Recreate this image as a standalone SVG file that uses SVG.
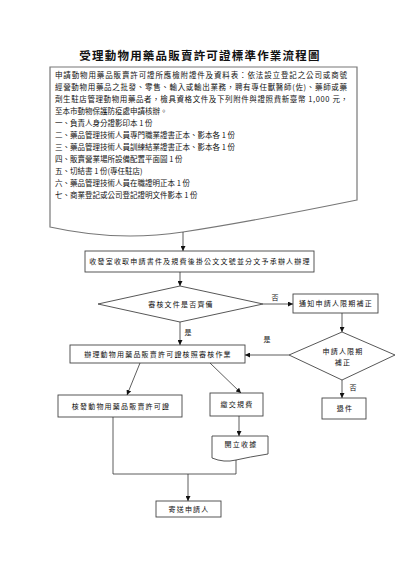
<svg xmlns="http://www.w3.org/2000/svg" width="400" height="566" viewBox="0 0 400 566">
<defs>
<marker id="arr" viewBox="0 0 6 6" refX="6" refY="3" markerWidth="5" markerHeight="5" orient="auto" markerUnits="userSpaceOnUse">
<path d="M0,0 L6,3 L0,6 z" fill="#111"/>
</marker>
<style>
text{font-family:"Noto Sans CJK TC","Noto Sans CJK SC",sans-serif;fill:#111;}
.title{font-size:11.5px;font-weight:bold;letter-spacing:1.2px;text-anchor:middle;}
.doc{font-size:7.5px;}
.t{font-size:7px;letter-spacing:1.2px;text-anchor:middle;}
.box{fill:#fff;stroke:#444;stroke-width:0.9;}
.docshape{fill:#fff;stroke:#777;stroke-width:1.2;}
.c{fill:none;stroke:#333;stroke-width:0.8;}
.ca{fill:none;stroke:#333;stroke-width:0.8;marker-end:url(#arr);}
.lbl{font-size:7px;text-anchor:middle;}
</style>
</defs>
<rect width="400" height="566" fill="#fff"/>
<text class="title" x="200" y="60">受理動物用藥品販賣許可證標準作業流程圖</text>

<g id="node-requirements">
<path class="docshape" d="M50,67 L357,67 L357,200 Q249,222 183,232 Q117,242 50,227 Z"/>
<text class="doc" x="55" y="77.7" textLength="292" lengthAdjust="spacing">申請動物用藥品販賣許可證所應檢附證件及資料表：依法設立登記之公司或商號</text>
<text class="doc" x="55" y="89.7" textLength="292" lengthAdjust="spacing">經營動物用藥品之批發、零售、輸入或輸出業務，聘有專任獸醫師(佐)、藥師或藥</text>
<text class="doc" x="55" y="101.7" textLength="293" lengthAdjust="spacing">劑生駐店管理動物用藥品者，檢具資格文件及下列附件與證照費新臺幣 1,000 元，</text>
<text class="doc" x="55" y="113.7">至本市動物保護防疫處申請核辦。</text>
<text class="doc" x="55" y="125.7">一、負責人身分證影印本 1 份</text>
<text class="doc" x="55" y="137.7">二、藥品管理技術人員專門職業證書正本、影本各 1 份</text>
<text class="doc" x="55" y="149.7">三、藥品管理技術人員訓練結業證書正本、影本各 1 份</text>
<text class="doc" x="55" y="161.7">四、販賣營業場所設備配置平面圖 1 份</text>
<text class="doc" x="55" y="173.7">五、切結書 1 份(專任駐店)</text>
<text class="doc" x="55" y="185.7">六、藥品管理技術人員在職證明正本 1 份</text>
<text class="doc" x="55" y="197.7">七、商業登記或公司登記證明文件影本 1 份</text>
</g>

<g id="node-receive">
<rect class="box" x="85" y="251" width="229" height="21"/>
<text class="t" x="200" y="264">收發室收取申請書件及規費後掛公文文號並分文予承辦人辦理</text>
</g>

<g id="node-check">
<polygon class="box" points="180,286 263,304 180,322 98,304"/>
<text class="t" x="181" y="306.5">審核文件是否齊備</text>
</g>

<g id="node-notify">
<rect class="box" x="293" y="294" width="85" height="19"/>
<text class="t" x="336" y="306">通知申請人限期補正</text>
</g>

<g id="node-supplement">
<polygon class="box" points="342,332 395,355 342,380 289,355"/>
<text class="t" x="343" y="354">申請人限期</text>
<text class="t" x="343" y="365">補正</text>
</g>

<g id="node-process">
<rect class="box" x="70" y="345" width="175" height="18"/>
<text class="t" x="158" y="356.5">辦理動物用藥品販賣許可證核照審核作業</text>
</g>

<g id="node-issue">
<rect class="box" x="58" y="395" width="124" height="22"/>
<text class="t" x="121" y="408.5">核發動物用藥品販賣許可證</text>
</g>

<g id="node-fee">
<rect class="box" x="210" y="393" width="53" height="23"/>
<text class="t" x="237" y="407">繳交規費</text>
</g>

<g id="node-return">
<rect class="box" x="322" y="398" width="44" height="21"/>
<text class="t" x="345" y="411">退件</text>
</g>

<g id="node-receipt">
<path class="box" d="M212,436 L268,436 L268,454 Q249,457 236,460 Q224,463 212,458 Z"/>
<text class="t" x="241" y="447">開立收據</text>
</g>

<g id="node-send">
<rect class="box" x="156" y="501" width="65" height="16"/>
<text class="t" x="189" y="511.5">寄送申請人</text>
</g>

<g id="connectors">
<line class="ca" x1="183" y1="232" x2="183" y2="251"/>
<line class="ca" x1="180" y1="272" x2="180" y2="286"/>
<line class="ca" x1="263" y1="304" x2="293" y2="304"/>
<text class="lbl" x="275" y="300">否</text>
<line class="ca" x1="342" y1="313" x2="342" y2="332"/>
<line class="ca" x1="289" y1="355" x2="245" y2="355"/>
<text class="lbl" x="267" y="342">是</text>
<line class="ca" x1="180" y1="322" x2="180" y2="345"/>
<text class="lbl" x="188" y="335">是</text>
<line class="ca" x1="342" y1="380" x2="342" y2="398"/>
<text class="lbl" x="353" y="390">否</text>
<line class="ca" x1="140" y1="363" x2="127" y2="395"/>
<line class="ca" x1="210" y1="363" x2="241" y2="393"/>
<line class="ca" x1="239" y1="416" x2="239" y2="436"/>
<polyline class="c" points="113,417 113,474 236,474 236,460"/>
<line class="ca" x1="188" y1="474" x2="188" y2="501"/>
</g>
</svg>
